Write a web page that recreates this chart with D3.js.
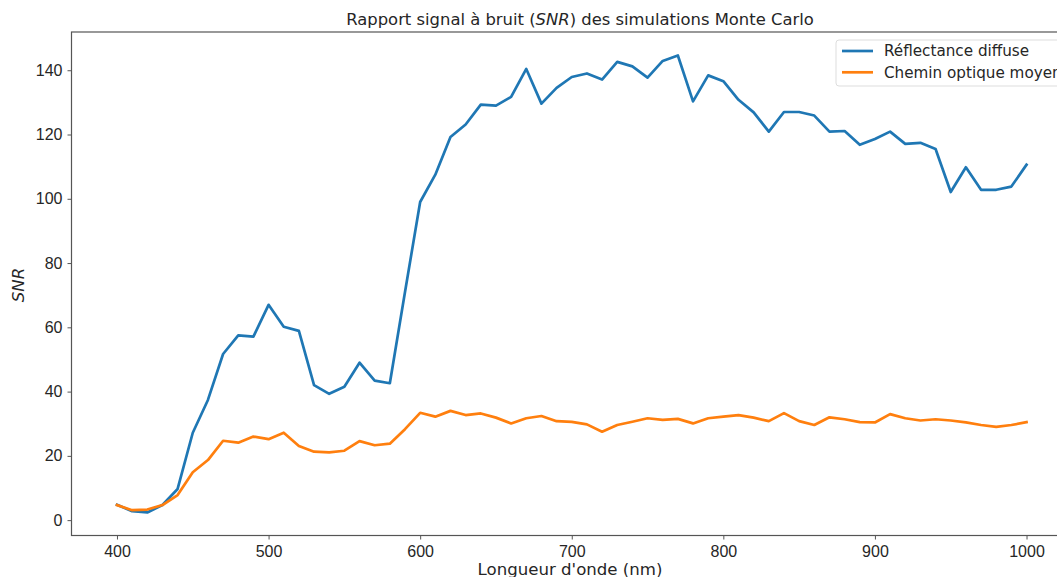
<!DOCTYPE html>
<html>
<head>
<meta charset="utf-8">
<script src="https://cdn.jsdelivr.net/npm/d3@7"></script>
<style>
  body { margin: 0; background: #fff; }
  svg { display: block; font-family: "DejaVu Sans", sans-serif; }
</style>
</head>
<body>
<svg id="chart" width="1057" height="577"></svg>
<script>
const wavelengths = d3.range(400, 1001, 10);
const reflectance = [
  4.8, 2.8, 2.4, 4.7, 9.7, 27.2, 37.4, 51.7, 57.5, 57.1,
  67.0, 60.2, 58.9, 42.0, 39.3, 41.5, 49.0, 43.4, 42.6, 71.0,
  99.0, 107.5, 119.2, 123.1, 129.3, 129.0, 131.7, 140.4, 129.6, 134.5,
  137.9, 139.0, 137.1, 142.6, 141.2, 137.7, 142.9, 144.6, 130.3, 138.4,
  136.6, 130.8, 126.9, 120.9, 127.0, 127.0, 125.9, 120.9, 121.1, 116.8,
  118.6, 120.9, 117.1, 117.4, 115.5, 102.1, 109.8, 102.8, 102.8, 103.8,
  110.6
];
const cheminOptique = [
  4.7, 3.1, 3.3, 4.7, 7.8, 14.9, 18.7, 24.7, 24.1, 26.0,
  25.2, 27.2, 23.1, 21.3, 21.1, 21.6, 24.6, 23.3, 23.8, 28.3,
  33.4, 32.2, 34.0, 32.7, 33.2, 31.9, 30.1, 31.7, 32.4, 30.8,
  30.6, 29.8, 27.5, 29.6, 30.6, 31.7, 31.2, 31.5, 30.1, 31.7,
  32.2, 32.7, 31.9, 30.8, 33.3, 30.8, 29.6, 32.0, 31.4, 30.5,
  30.4, 33.0, 31.7, 31.0, 31.4, 31.0, 30.4, 29.6, 29.0, 29.6,
  30.5
];
const seriesNames = ["Réflectance diffuse", "Chemin optique moyen"];
const seriesColors = ["#1f77b4", "#ff7f0e"];
const xTicks = [400, 500, 600, 700, 800, 900, 1000];
const yTicks = [0, 20, 40, 60, 80, 100, 120, 140];

const svg = d3.select("#chart");
const plotL = 71.5, plotR = 1072, plotT = 32, plotB = 535.5;

const x = d3.scaleLinear().domain([370, 1030]).range([plotL, plotR]);
const y = d3.scaleLinear().domain([-4.78, 151.9]).range([plotB, plotT]);

const textColor = "#262626";
const spineColor = "#555";

// axes
const xAxis = svg.append("g")
  .attr("transform", `translate(0,${plotB})`)
  .call(d3.axisBottom(x).tickValues(xTicks).tickSize(4).tickPadding(5).tickFormat(d3.format("d")));
const yAxis = svg.append("g")
  .attr("transform", `translate(${plotL},0)`)
  .call(d3.axisLeft(y).tickValues(yTicks).tickSize(4).tickPadding(5).tickFormat(d3.format("d")));
[xAxis, yAxis].forEach(g => {
  g.select(".domain").remove();
  g.selectAll(".tick line").attr("stroke", spineColor).attr("stroke-width", 1);
  g.selectAll(".tick text").attr("fill", textColor).style("font-size", "16px");
});
xAxis.selectAll(".tick text").attr("dy", "0.8em");

// spines
svg.append("rect")
  .attr("x", plotL).attr("y", plotT)
  .attr("width", plotR - plotL).attr("height", plotB - plotT)
  .attr("fill", "none").attr("stroke", spineColor).attr("stroke-width", 1.2);

// lines
const line = d3.line().x((d, i) => x(wavelengths[i])).y(d => y(d));
[reflectance, cheminOptique].forEach((vals, k) => {
  svg.append("path")
    .datum(vals)
    .attr("d", line)
    .attr("fill", "none")
    .attr("stroke", seriesColors[k])
    .attr("stroke-width", 2.7)
    .attr("stroke-linejoin", "round")
    .attr("stroke-linecap", "square");
});

// title
const title = svg.append("text")
  .attr("x", 580).attr("y", 25)
  .attr("text-anchor", "middle")
  .attr("fill", textColor)
  .style("font-size", "16.4px");
title.append("tspan").text("Rapport signal à bruit (");
title.append("tspan").style("font-style", "italic").text("SNR");
title.append("tspan").text(") des simulations Monte Carlo");

// x label
svg.append("text")
  .attr("x", 570).attr("y", 575)
  .attr("text-anchor", "middle")
  .attr("fill", textColor)
  .style("font-size", "16.6px")
  .text("Longueur d'onde (nm)");

// y label
svg.append("text")
  .attr("transform", "translate(24,285) rotate(-90)")
  .attr("text-anchor", "middle")
  .attr("fill", textColor)
  .style("font-size", "16.6px")
  .style("font-style", "italic")
  .text("SNR");

// legend
const leg = svg.append("g");
leg.append("rect")
  .attr("x", 836).attr("y", 40)
  .attr("width", 250).attr("height", 46)
  .attr("rx", 3)
  .attr("fill", "#fff").attr("fill-opacity", 0.8)
  .attr("stroke", "#ddd").attr("stroke-width", 1);
seriesNames.forEach((name, k) => {
  const yy = 51 + k * 21.3;
  leg.append("line")
    .attr("x1", 842).attr("x2", 873)
    .attr("y1", yy).attr("y2", yy)
    .attr("stroke", seriesColors[k]).attr("stroke-width", 2.7);
  leg.append("text")
    .attr("x", 884).attr("y", yy)
    .attr("dy", "0.35em")
    .attr("fill", textColor)
    .style("font-size", "15.2px")
    .text(name);
});
</script>
</body>
</html>
